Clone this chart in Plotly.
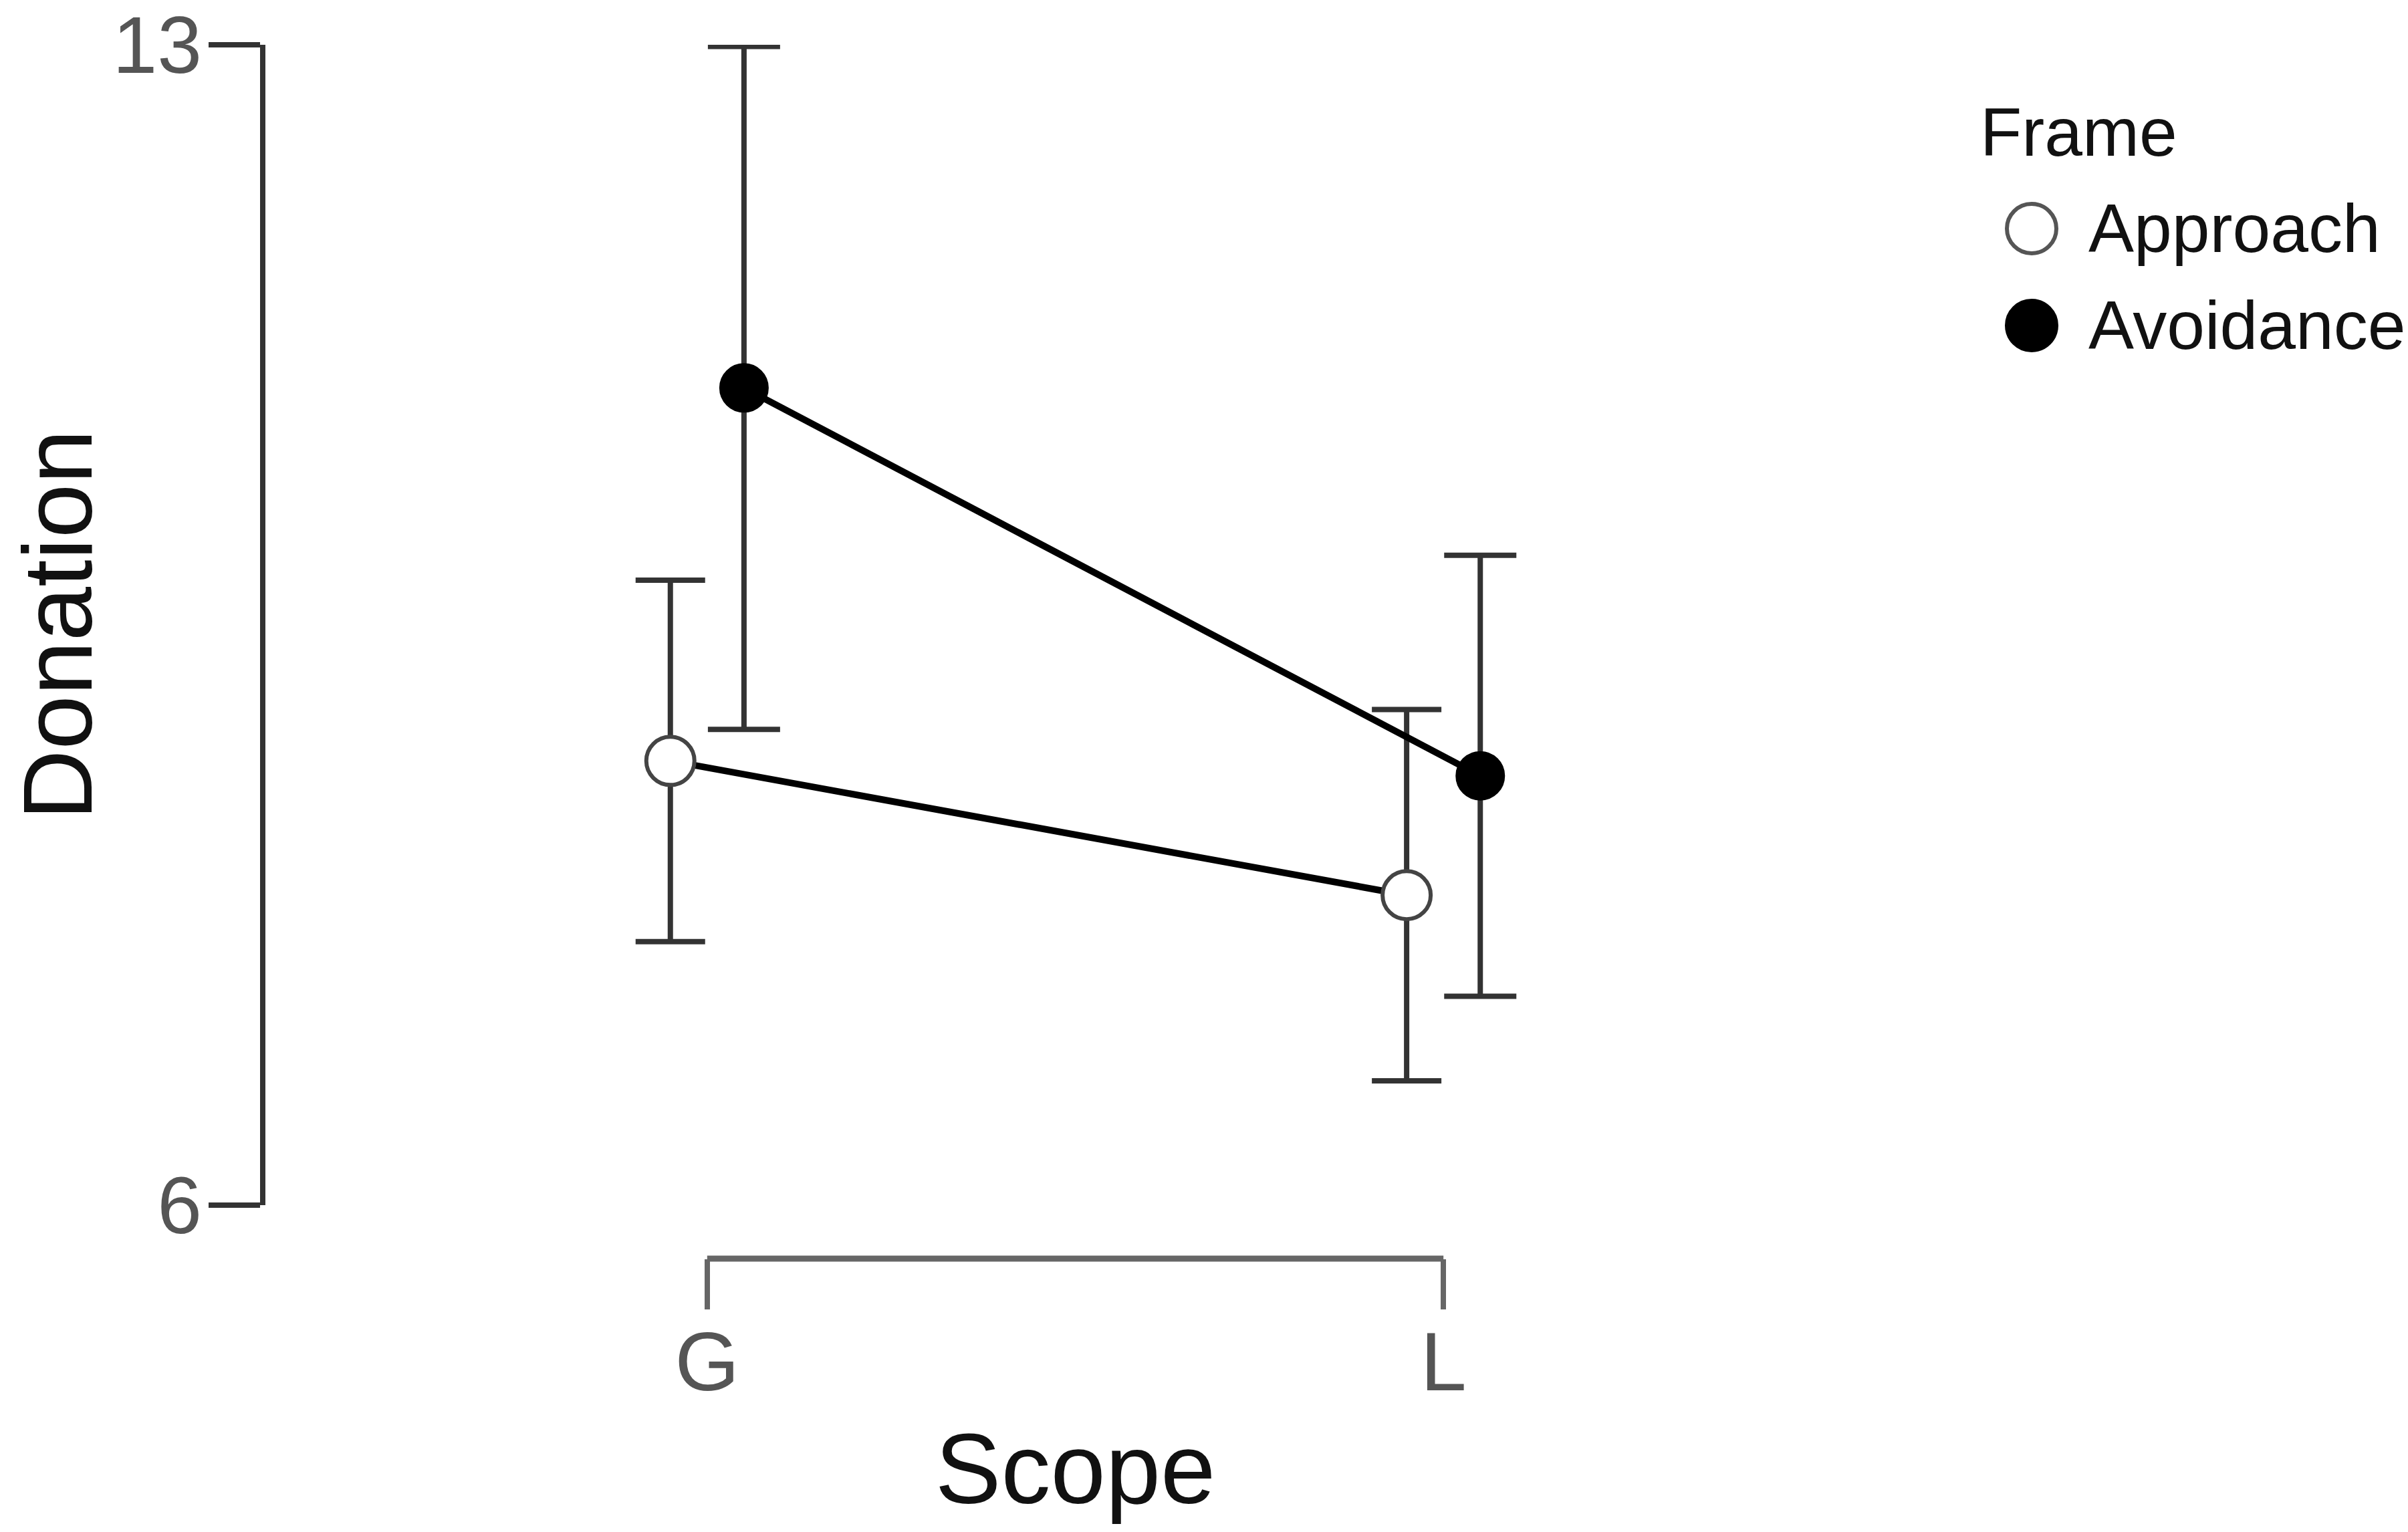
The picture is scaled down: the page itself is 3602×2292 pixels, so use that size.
import plotly.graph_objects as go

# data
scope = ["G", "L"]
frames = ["Approach", "Avoidance"]
approach_mean = [8.68, 7.87]
approach_ci = [1.09, 1.12]
avoidance_mean = [10.93, 8.59]
avoidance_ci = [2.06, 1.33]
y_ticks = [6, 13]

W, H = 3602, 2292
L, R, T, B = 397, 2820, 67, 1960   # plot box in pixels (B = paper bottom)


def px(x):
    return (x - L) / (R - L)


def py(y):
    return (B - y) / (B - T)


dodge = 0.05
xg = list(range(len(scope)))

fig = go.Figure()

fig.add_trace(go.Scatter(
    x=[i - dodge for i in xg], y=approach_mean, name=frames[0],
    mode="lines+markers",
    line=dict(color="black", width=10),
    marker=dict(size=72, color="white", line=dict(color="#444", width=6)),
    error_y=dict(type="data", array=approach_ci, color="#333", thickness=8, width=52),
))
fig.add_trace(go.Scatter(
    x=[i + dodge for i in xg], y=avoidance_mean, name=frames[1],
    mode="lines+markers",
    line=dict(color="black", width=10),
    marker=dict(size=72, color="black", line=dict(color="black", width=2)),
    error_y=dict(type="data", array=avoidance_ci, color="#333", thickness=8, width=54),
))

# x bracket between the two levels
fig.add_shape(type="line", xref="x", yref="paper", x0=xg[0], x1=xg[-1],
              y0=py(1883), y1=py(1883), line=dict(color="#666", width=9))

# y axis title
fig.add_annotation(text="Donation", xref="paper", yref="y domain", x=px(86), y=0.5,
                   xanchor="center", yanchor="middle", textangle=-90, showarrow=False,
                   font=dict(size=146, color="#111"))

# legend drawn by hand (plotly caps legend marker size)
fig.add_annotation(text="Frame", xref="paper", yref="paper", x=px(2960), y=py(198),
                   xanchor="left", yanchor="middle", showarrow=False,
                   font=dict(size=102, color="#111"))
leg_y = [342, 487]
fills = ["white", "black"]
for name, yy, fc in zip(frames, leg_y, fills):
    fig.add_shape(type="circle", xref="paper", yref="paper",
                  xsizemode="pixel", ysizemode="pixel",
                  xanchor=px(3039), yanchor=py(yy),
                  x0=-37, x1=37, y0=-37, y1=37,
                  fillcolor=fc, line=dict(color="#555" if fc == "white" else "black", width=6))
    fig.add_annotation(text=name, xref="paper", yref="paper", x=px(3122), y=py(yy),
                       xanchor="left", yanchor="middle", showarrow=False,
                       font=dict(size=102, color="#111"))

fig.update_layout(
    width=W, height=H,
    margin=dict(l=L, r=W - R, t=T, b=H - B),
    plot_bgcolor="white", paper_bgcolor="white",
    font=dict(family="Liberation Sans, Arial, sans-serif", color="#111"),
    showlegend=False,
    xaxis=dict(
        range=[-0.6, 1.6], anchor="free", position=py(1883), automargin=False,
        tickvals=xg, ticktext=scope,
        ticks="outside", ticklen=75, tickwidth=8, tickcolor="#666",
        showline=False, showgrid=False, zeroline=False,
        tickfont=dict(size=124, color="#555"), ticklabelstandoff=-28,
        ticklabeloverflow="allow",
        title=dict(text="Scope", font=dict(size=148, color="#111"), standoff=40),
    ),
    yaxis=dict(
        domain=[py(1803), 1], range=[6, 13], tickvals=y_ticks, automargin=False,
        ticks="outside", ticklen=77, tickwidth=8, tickcolor="#333",
        showline=True, linewidth=8, linecolor="#333",
        showgrid=False, zeroline=False,
        tickfont=dict(size=120, color="#555"), ticklabelstandoff=-14,
        ticklabeloverflow="allow",
    ),
)

fig.write_html("out.html", config={"displayModeBar": False},
               post_script="document.body.style.margin='0';")
